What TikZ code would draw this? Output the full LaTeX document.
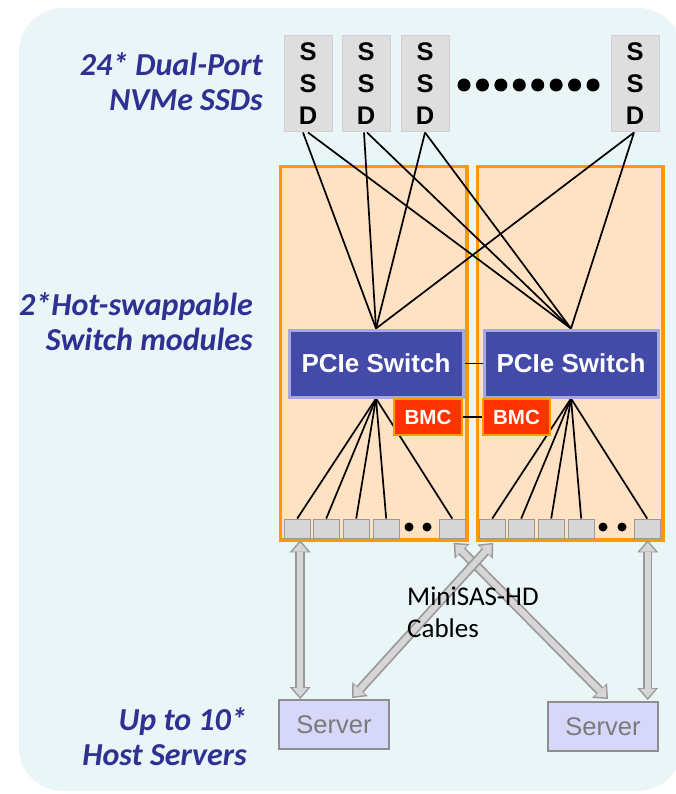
\documentclass[tikz,border=0pt]{standalone}
\usepackage{fontspec}
\setmainfont{Liberation Sans}
\newfontfamily\calibri{Carlito}
\usetikzlibrary{arrows.meta,calc}

\definecolor{panelbg}{HTML}{E9F5F7}
\definecolor{ssdfill}{HTML}{DEDEDE}
\definecolor{ssdedge}{HTML}{D0D0D0}
\definecolor{modfill}{HTML}{FFE1C4}
\definecolor{modedge}{HTML}{FF9900}
\definecolor{swfill}{HTML}{444AA8}
\definecolor{swedge}{HTML}{A8A8E0}
\definecolor{bmcfill}{HTML}{FF3300}
\definecolor{portfill}{HTML}{D6D6D6}
\definecolor{portedge}{HTML}{9A9A9A}
\definecolor{srvfill}{HTML}{D7D7FA}
\definecolor{srvedge}{HTML}{8E8E8E}
\definecolor{srvtext}{HTML}{7A7A7A}
\definecolor{captext}{HTML}{2E3192}
\definecolor{arrowedge}{HTML}{999999}
\definecolor{arrowfill}{HTML}{D6D6D6}

\pgfdeclarelayer{back}
\pgfdeclarelayer{wires}
\pgfsetlayers{back,wires,main}

% two-pass outlined double-headed cable arrow
\newcommand\cablepair[2]{%
  \draw[arrowout] (#1) -- (#2);
  \draw[arrowin] (#1) -- (#2);}

\begin{document}
\begin{tikzpicture}[x=1pt,y=-1pt,
  ssdbox/.style={draw=ssdedge, line width=1pt, fill=ssdfill, minimum width=48pt,
    minimum height=96pt, inner sep=0pt, anchor=north west, align=center,
    font=\bfseries\fontsize{25.5}{32}\selectfont},
  module/.style={draw=modedge, line width=3.5pt, fill=modfill, minimum height=373.5pt,
    anchor=north west, inner sep=0pt},
  switchbox/.style={draw=swedge, line width=3pt, fill=swfill, text=white,
    minimum width=174pt, minimum height=67pt, anchor=north west, inner sep=0pt,
    font=\bfseries\fontsize{26}{30}\selectfont},
  bmcbox/.style={draw=modedge, line width=2pt, fill=bmcfill, text=white,
    minimum height=36pt, anchor=north west, inner sep=0pt,
    font=\bfseries\fontsize{20.5}{24}\selectfont},
  port/.style={draw=portedge, line width=1.2pt, fill=portfill, minimum width=26pt,
    minimum height=19pt, anchor=north west, inner sep=0pt},
  server/.style={draw=srvedge, line width=2pt, fill=srvfill, text=srvtext,
    minimum width=110pt, minimum height=49pt, anchor=north west, inner sep=0pt,
    font=\fontsize{25.5}{30}\selectfont},
  wire/.style={black, line width=1.7pt},
  caption/.style={text=captext, font=\calibri\bfseries\itshape\fontsize{32}{35}\selectfont,
    align=right, inner sep=0pt, anchor=east},
  blob/.style={circle, fill=black, inner sep=0pt, minimum size=#1},
  arrowout/.style={draw=arrowedge, line width=9.5pt,
    {Triangle[length=12pt,width=21pt,line width=0pt]}-{Triangle[length=12pt,width=21pt,line width=0pt]}},
  arrowin/.style={draw=arrowfill, line width=6pt,
    {Triangle[length=9pt,width=15.5pt,line width=0pt]}-{Triangle[length=9pt,width=15.5pt,line width=0pt]},
    shorten <=2.2pt, shorten >=2.2pt},
]
\useasboundingbox (0,0) rectangle (675,794);

% panel and switch module trays
\begin{pgfonlayer}{back}
  \fill[panelbg, rounded corners=44pt] (19,8) rectangle (682,791);
  \node[module, minimum width=186.5pt] (modL) at (278.75,164.75) {};
  \node[module, minimum width=185.5pt] (modR) at (475.75,164.75) {};
\end{pgfonlayer}

% SSDs
\node[ssdbox] (ssd1) at (283.5,35.5) {S\\S\\D};
\node[ssdbox] (ssd2) at (341.5,35.5) {S\\S\\D};
\node[ssdbox] (ssd3) at (400.5,35.5) {S\\S\\D};
\node[ssdbox] (ssd4) at (610.5,35.5) {S\\S\\D};
\foreach \i in {0,...,7}
  \node[blob=13pt] (sd\i) at ({464+\i*18.43},85) {};

% PCIe switches and BMCs
\node[switchbox] (swL) at (287.5,328.5) {PCIe Switch};
\node[switchbox] (swR) at (482.5,328.5) {PCIe Switch};
\node[bmcbox, minimum width=68pt] (bmcL) at (393,398) {BMC};
\node[bmcbox, minimum width=67pt] (bmcR) at (482,398) {BMC};

% ports
\foreach \n/\x in {1/283, 2/312, 3/342, 4/372, 6/438}
  \node[port] (pL\n) at (\x.6,518.6) {};
\foreach \n/\x in {1/478, 2/507, 3/537, 4/567, 6/633}
  \node[port] (pR\n) at (\x.6,518.6) {};
\node[blob=9pt] (pdL1) at (409,527) {};
\node[blob=9pt] (pdL2) at (427,527) {};
\node[blob=9pt] (pdR1) at (603,527) {};
\node[blob=9pt] (pdR2) at (622,527) {};

% servers
\node[server] (srvL) at (278,699) {Server};
\node[server] (srvR) at (547,701) {Server};

% wiring inside the chassis
\begin{pgfonlayer}{wires}
  \draw[wire] ($(ssd1.south)+(-5,0)$) -- (swL.north);
  \draw[wire] ($(ssd1.south)+(0,0)$) -- (swR.north);
  \draw[wire] ($(ssd2.south)+(-2,0)$) -- (swL.north);
  \draw[wire] ($(ssd2.south)+(1,0)$) -- (swR.north);
  \draw[wire] (ssd3.south) -- (swL.north);
  \draw[wire] (ssd3.south) -- (swR.north);
  \draw[wire] ($(ssd4.south)+(-1,0)$) -- (swL.north);
  \draw[wire] ($(ssd4.south)+(-1,0)$) -- (swR.north);
  \foreach \n in {1,2,3,4,6} {
    \draw[wire] (swL.south) -- (pL\n.north);
    \draw[wire] (swR.south) -- (pR\n.north);
  }
  \draw[wire] (swL.east) -- (swR.west);
  \draw[wire] (bmcL.east) -- (bmcR.west);
\end{pgfonlayer}

% MiniSAS-HD cables
\coordinate (c1t) at ($(pL1.south)+(3,1.5)$);
\coordinate (c1b) at (c1t |- srvL.north);
\coordinate (c4t) at ($(pR6.south)+(0.5,1.5)$);
\coordinate (c4b) at ($(c4t |- srvR.north)+(0,-1)$);
\coordinate (c2t) at ($(pL6.south)+(1.5,4)$);
\coordinate (c2b) at ($(608,0 |- srvR.north)+(0,-2)$);
\coordinate (c3t) at ($(pR1.south)+(1,4)$);
\coordinate (c3b) at ($(352,0 |- srvL.north)+(0,-1)$);
\cablepair{c1t}{c1b}
\cablepair{c4t}{c4b}
\cablepair{c2t}{c2b}
\cablepair{c3t}{c3b}

\node[anchor=west, align=left, inner sep=0pt,
  font=\calibri\fontsize{27}{32}\selectfont] (cablelbl) at (407,612)
  {MiniSAS-HD\\Cables};

% side captions
\node[caption] (capssd) at (263,82) {24* Dual-Port\\NVMe SSDs};
\node[caption] (capsw) at (253,322) {2*Hot-swappable\\Switch modules};
\node[caption] (capsrv) at (247,737) {Up to 10*\\Host Servers};
\end{tikzpicture}
\end{document}
